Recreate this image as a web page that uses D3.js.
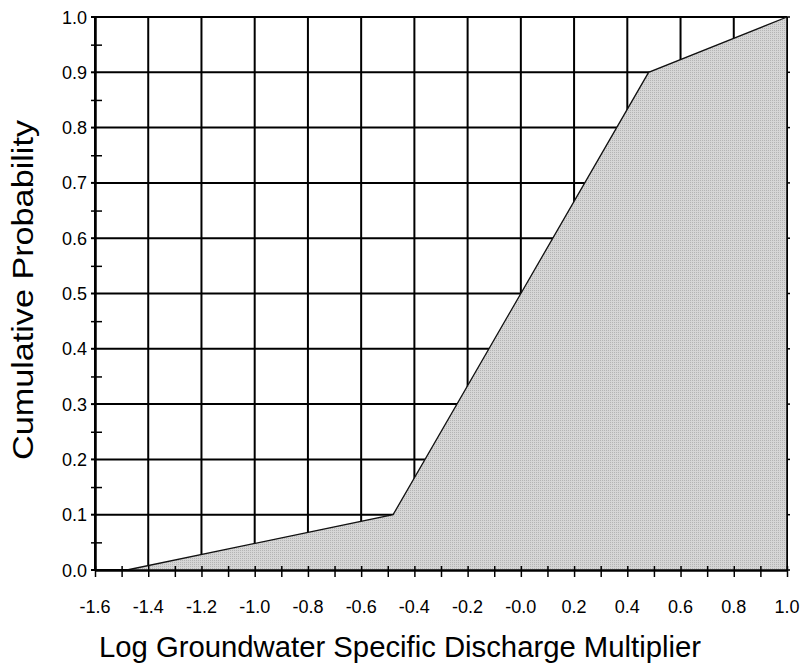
<!DOCTYPE html>
<html>
<head>
<meta charset="utf-8">
<script src="https://cdn.jsdelivr.net/npm/d3@7"></script>
<style>
  body { margin: 0; background: #fff; }
  text { font-family: "Liberation Sans", Arial, sans-serif; fill: #000; }
</style>
</head>
<body>
<svg width="803" height="663"></svg>
<script>
// CDF breakpoints
var cdfX = [-1.48, -0.48, 0.48, 1.0];
var cdfY = [0.0, 0.1, 0.9, 1.0];

var xTicks = [-1.6, -1.4, -1.2, -1.0, -0.8, -0.6, -0.4, -0.2, 0.0, 0.2, 0.4, 0.6, 0.8, 1.0];
var xTickLabels = ["-1.6", "-1.4", "-1.2", "-1.0", "-0.8", "-0.6", "-0.4", "-0.2", "-0.0", "0.2", "0.4", "0.6", "0.8", "1.0"];
var yTicks = [0.0, 0.1, 0.2, 0.3, 0.4, 0.5, 0.6, 0.7, 0.8, 0.9, 1.0];

var svg = d3.select("svg");
var pLeft = 95, pRight = 787, pTop = 17, pBottom = 570;

var x = d3.scaleLinear().domain([-1.6, 1.0]).range([pLeft, pRight]);
var y = d3.scaleLinear().domain([0, 1]).range([pBottom, pTop]);

// fill pattern: fine gray dots
var defs = svg.append("defs");
var pat = defs.append("pattern")
    .attr("id", "dots")
    .attr("width", 2).attr("height", 2)
    .attr("patternUnits", "userSpaceOnUse");
pat.append("rect").attr("width", 2).attr("height", 2).attr("fill", "#d6d6d6");
pat.append("rect").attr("width", 1).attr("height", 1).attr("fill", "#b4b4b4");

// grid
var grid = svg.append("g");
grid.selectAll("line.v")
    .data(xTicks)
    .enter().append("line")
    .attr("x1", function(d) { return x(d); })
    .attr("x2", function(d) { return x(d); })
    .attr("y1", pTop).attr("y2", pBottom)
    .attr("stroke", "#000").attr("stroke-width", 2);
grid.selectAll("line.h")
    .data(yTicks)
    .enter().append("line")
    .attr("x1", pLeft).attr("x2", pRight)
    .attr("y1", function(d) { return y(d); })
    .attr("y2", function(d) { return y(d); })
    .attr("stroke", "#000").attr("stroke-width", 2);

// area
var pts = cdfX.map(function(d, i) { return [d, cdfY[i]]; });
var area = d3.area()
    .x(function(d) { return x(d[0]); })
    .y0(y(0))
    .y1(function(d) { return y(d[1]); });
svg.append("path")
    .datum(pts)
    .attr("d", area)
    .attr("fill", "url(#dots)");
svg.append("path")
    .datum(pts)
    .attr("d", d3.line().x(function(d) { return x(d[0]); }).y(function(d) { return y(d[1]); }))
    .attr("fill", "none")
    .attr("stroke", "#111")
    .attr("stroke-width", 1.3);

// right frame
svg.append("line").attr("x1", pRight).attr("x2", pRight).attr("y1", pTop).attr("y2", pBottom)
    .attr("stroke", "#000").attr("stroke-width", 1.5);

// bottom axis: ticks every 0.1
var xAxis = d3.axisBottom(x)
    .tickValues(d3.range(-1.6, 1.05, 0.1))
    .tickSize(0)
    .tickFormat("");
var gx = svg.append("g").attr("transform", "translate(0," + pBottom + ")").call(xAxis);
gx.select(".domain").attr("stroke", "#000").attr("stroke-width", 2.5);
gx.selectAll(".tick line").attr("y1", -4).attr("y2", 7).attr("stroke", "#000").attr("stroke-width", 1.5);

svg.append("g").selectAll("text")
    .data(xTicks)
    .enter().append("text")
    .attr("x", function(d) { return x(d); })
    .attr("y", 613)
    .attr("text-anchor", "middle")
    .attr("font-size", 18)
    .text(function(d, i) { return xTickLabels[i]; });

// left axis: minor ticks at 0.05
var yAxis = d3.axisLeft(y)
    .tickValues(d3.range(0.05, 1.0, 0.1))
    .tickSize(0)
    .tickFormat("");
var gy = svg.append("g").attr("transform", "translate(" + pLeft + ",0)").call(yAxis);
gy.select(".domain").attr("stroke", "#000").attr("stroke-width", 2.5);
gy.selectAll(".tick line").attr("x1", -4).attr("x2", 7).attr("stroke", "#000").attr("stroke-width", 1.5);

svg.append("g").selectAll("line")
    .data(yTicks)
    .enter().append("line")
    .attr("x1", pLeft - 4).attr("x2", pLeft)
    .attr("y1", function(d) { return y(d); })
    .attr("y2", function(d) { return y(d); })
    .attr("stroke", "#000").attr("stroke-width", 2);

svg.append("g").selectAll("text")
    .data(yTicks)
    .enter().append("text")
    .attr("x", 87)
    .attr("y", function(d) { return y(d) + 6.5; })
    .attr("text-anchor", "end")
    .attr("font-size", 18)
    .text(function(d) { return d3.format(".1f")(d); });

// right side small ticks
svg.append("g").selectAll("line")
    .data(yTicks)
    .enter().append("line")
    .attr("x1", pRight).attr("x2", pRight + 3)
    .attr("y1", function(d) { return y(d); })
    .attr("y2", function(d) { return y(d); })
    .attr("stroke", "#000").attr("stroke-width", 1.5);

// titles
svg.append("text")
    .attr("x", 400).attr("y", 657)
    .attr("text-anchor", "middle")
    .attr("font-size", 29)
    .attr("textLength", 602)
    .attr("lengthAdjust", "spacingAndGlyphs")
    .text("Log Groundwater Specific Discharge Multiplier");

svg.append("text")
    .attr("transform", "translate(33,290) rotate(-90)")
    .attr("text-anchor", "middle")
    .attr("font-size", 29)
    .attr("textLength", 340)
    .attr("lengthAdjust", "spacingAndGlyphs")
    .text("Cumulative Probability");
</script>
</body>
</html>
